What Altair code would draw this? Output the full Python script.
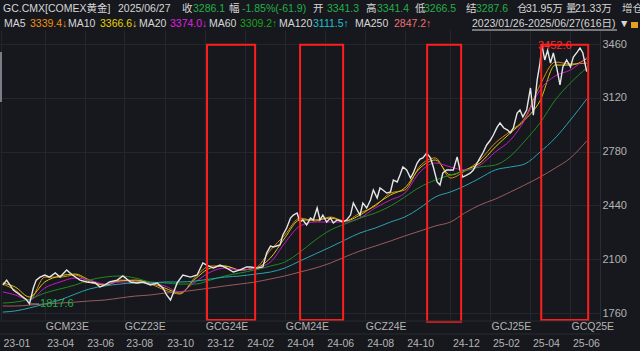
import altair as alt
import pandas as pd

# ---------------- data ----------------
# trading-day index (0 = 2023/01/26, 615 = 2025/06/27) and close price
price_series = [
    (2,1937),(6,1968),(13,1905),(20,1874),(27,1842),(30,1817.6),(34,1918),(37,1968),(41,1987),
    (46,2000),(51,1987),(57,2013),(62,1987),(69,2032),(75,2000),(83,1968),(90,1956),(99,1950),
    (104,1924),(109,1937),(114,1956),(122,1968),(128,1994),(136,1956),(143,1950),(149,1956),
    (157,1937),(164,1950),(170,1918),(174,1874),(178,1842),(181,1886),(185,1950),(191,2000),
    (199,1987),(206,2000),(212,2076),(216,2063),(223,2044),(230,2063),(237,2044),(244,2019),
    (251,2032),(258,2051),(262,2051),(269,2044),(275,2051),(279,2139),(283,2183),(286,2177),
    (293,2190),(296,2253),(300,2297),(304,2360),(307,2379),(311,2392),(314,2335),(317,2348),
    (321,2316),(325,2360),(328,2348),(332,2424),(335,2348),(338,2379),(342,2335),(346,2360),
    (349,2329),(353,2348),(359,2335),(363,2348),(367,2379),(370,2455),(374,2411),(377,2379),
    (380,2455),(384,2424),(388,2474),(391,2537),(395,2487),(398,2550),(401,2537),(405,2518),
    (409,2525),(412,2600),(416,2588),(419,2632),(422,2683),(426,2664),(430,2613),(433,2645),
    (437,2708),(440,2733),(443,2740),(447,2771),(451,2740),(454,2683),(458,2588),(461,2569),
    (464,2645),(468,2664),(472,2664),(475,2664),(479,2746),(482,2664),(485,2619),(489,2632),
    (493,2645),(496,2664),(500,2708),(503,2740),(506,2771),(510,2822),(514,2853),(517,2885),
    (521,2935),(524,2961),(528,2929),(532,2916),(535,2898),(538,2929),(542,3024),(545,3043),
    (548,2999),(552,3043),(556,3182),(559,3010),(563,3232),(566,3340),(568,3452.6),(571,3359),
    (574,3420),(577,3340),(580,3403),(584,3296),(587,3201),(590,3315),(594,3359),(598,3315),
    (601,3378),(605,3409),(608,3435),(611,3403),(615,3286.1),
]

ma_day = [2,15,30,46,62,78,93,109,125,141,157,172,188,204,220,235,251,267,283,298,
          314,330,346,361,377,393,409,424,440,456,472,487,503,519,535,550,566,582,598,615]
ma5 = [1943,1905,1842,1987,1987,2000,1956,1937,1968,1962,1943,1905,1880,1987,2057,2057,2032,2044,2158,2253,
       2360,2341,2367,2341,2392,2436,2518,2537,2689,2740,2613,2657,2727,2834,2910,2992,3200,3346,3334,3339.4]
ma10 = [1950,1924,1861,1956,1994,2006,1968,1937,1962,1968,1950,1918,1886,1975,2044,2057,2032,2044,2108,2234,
        2348,2348,2360,2341,2379,2443,2506,2550,2676,2727,2632,2664,2708,2809,2898,2980,3100,3327,3327,3366.6]
ma20 = [1893,1874,1842,1918,1956,1981,1968,1943,1956,1956,1950,1931,1893,1956,2019,2044,2032,2044,2082,2202,
        2310,2335,2335,2335,2360,2424,2474,2518,2651,2708,2683,2664,2695,2777,2853,2980,3169,3258,3296,3374.0]
ma60 = [1823,1829,1848,1886,1912,1937,1968,1987,1994,1981,1956,1950,1943,1943,1968,1994,2013,2032,2057,2082,
        2145,2221,2284,2322,2360,2392,2436,2493,2556,2600,2632,2657,2683,2695,2752,2847,2961,3106,3214,3309.2]
ma120 = [1766,1773,1792,1817,1842,1880,1912,1931,1943,1950,1950,1956,1956,1962,1975,1987,1994,2006,2019,2044,
         2089,2133,2177,2221,2266,2297,2335,2367,2424,2493,2525,2563,2613,2664,2683,2702,2777,2866,2980,3111.5]
ma250 = [1804,1804,1810,1817,1823,1829,1836,1842,1855,1867,1874,1886,1893,1905,1918,1931,1943,1956,1975,1994,
         2019,2044,2076,2114,2152,2183,2215,2247,2278,2310,2335,2392,2443,2480,2525,2569,2619,2676,2740,2847.2]

date_tick_day = [0,46,88,129,172,214,256,298,340,382,424,472,514,556,598]
date_tick_label = ["23-01","23-04","23-06","23-08","23-10","23-12","24-02","24-04",
                   "24-06","24-08","24-10","24-12","25-02","25-04","25-06"]
contract_day = [46,129,214,298,382,514,598]
contract_label = ["GCM23E","GCZ23E","GCG24E","GCM24E","GCZ24E","GCJ25E","GCQ25E"]

y_ticks = [1760,2100,2440,2780,3120,3460]

box_start = [216.4,314.1,447.5,567.3]
box_end = [266.9,359.3,483.2,616.6]
box_low = [1716,1716,1704,1716]
box_high = [3456,3456,3456,3456]

high_point = (568, 3452.6)
low_point = (30, 1817.6)
low_label_end = 40

header_row1 = [("GC.CMX[COMEX黄金]","w"),("2025/06/27","w"),("收","w"),("3286.1","g"),("幅","w"),
               ("-1.85%(-61.9)","g"),("开","w"),("3341.3","g"),("高","w"),("3341.4","g"),("低","w"),
               ("3266.5","g"),("结","w"),("3287.6","g"),("仓","w"),("31.95万","w"),("量","w"),
               ("21.33万","w"),("增仓","w")]
header_row2 = [("MA5","w"),("3339.4↓","MA5"),("MA10","w"),("3366.6↓","MA10"),("MA20","w"),
               ("3374.0↓","MA20"),("MA60","w"),("3309.2↑","MA60"),("MA120","w"),("3111.5↑","MA120"),
               ("MA250","w"),("2847.2↑","MA250"),("2023/01/26-2025/06/27(616日)","w"),("▼","w")]

# ---------------- styling / layout ----------------
FONT = "Liberation Sans, Noto Sans CJK SC"
BG = "#16181d"
GRID = "#23272d"
LABEL = "#b4b4b4"
WHITE = "#d6d6d6"
GREEN = "#22b04a"
ma_line_colors = {"MA5":"#d88a10","MA10":"#d8c810","MA20":"#c418c4","MA60":"#1f8a1f",
                  "MA120":"#2aa3ad","MA250":"#9c5a5a"}
ma_text_colors = {"MA5":"#f09010","MA10":"#e6d200","MA20":"#e020e0","MA60":"#1fa01f",
                  "MA120":"#20c0d0","MA250":"#f07070"}
row1_x = [3,118,182,193,229,242,313,327,366,377,415,424,466,476,517,526,566,575,622]
row2_x = [4,30,68,100,139,170,209,240,279,313,355,394,472,619]
HEAD_SIZE = 10.5

W, H = 600, 290
TOP = 30

label_map = "{" + ",".join(f"'{d}':'{l}'" for d, l in zip(date_tick_day, date_tick_label)) + "}"
x_scale = alt.Scale(domain=[-1, 629], nice=False, zero=False)
y_scale = alt.Scale(domain=[1715.8, 3548.5], nice=False, zero=False)
x_axis = alt.Axis(values=date_tick_day, labelExpr=label_map + "[datum.value]", grid=True,
                  gridColor=GRID, gridWidth=1, ticks=False, domain=False, labelAlign="left",
                  labelBaseline="middle", labelPadding=23, labelOffset=2, labelColor=LABEL,
                  labelFontSize=10.5, labelFont=FONT, labelFlush=False, labelOverlap=False, title=None)
y_axis = alt.Axis(orient="right", values=y_ticks, format="d", grid=True, gridColor=GRID, gridWidth=1,
                  ticks=False, domain=True, domainColor="#2a2e34", labelAlign="left",
                  labelBaseline="middle", labelPadding=2, labelColor=LABEL, labelFontSize=11,
                  labelFont=FONT, labelFlush=False, title=None)


def X(field):
    return alt.X(field, type="quantitative", scale=x_scale, axis=x_axis)


def Y(field):
    return alt.Y(field, type="quantitative", scale=y_scale, axis=y_axis)


price_df = pd.DataFrame(price_series, columns=["day", "value"])
ma_frames = []
for name, vals in [("MA5", ma5), ("MA10", ma10), ("MA20", ma20), ("MA60", ma60),
                   ("MA120", ma120), ("MA250", ma250)]:
    assert len(vals) == len(ma_day)
    ma_frames.append(pd.DataFrame({"day": ma_day, "value": vals, "ma": name}))
ma_df = pd.concat(ma_frames, ignore_index=True)
box_df = pd.DataFrame({"start": box_start, "end": box_end, "low": box_low, "high": box_high})
contract_df = pd.DataFrame({"day": contract_day, "label": contract_label})

layers = []

# MA lines
layers.append(
    alt.Chart(ma_df).mark_line(strokeWidth=1, interpolate="monotone").encode(
        x=X("day"), y=Y("value"),
        color=alt.Color("ma:N", scale=alt.Scale(domain=list(ma_line_colors.keys()),
                                                range=list(ma_line_colors.values())), legend=None),
        detail="ma:N",
        order=alt.Order("day:Q"),
    )
)
# price line
layers.append(
    alt.Chart(price_df).mark_line(strokeWidth=1.4, color="#e6e6e6").encode(x=X("day"), y=Y("value"))
)
# red highlight boxes
layers.append(
    alt.Chart(box_df).mark_rect(fill=None, fillOpacity=0, stroke="#ff1e1e", strokeWidth=2, clip=False).encode(
        x=X("start"), x2="end", y=Y("low"), y2="high")
)
# high label
layers.append(
    alt.Chart(pd.DataFrame({"day": [high_point[0]], "value": [high_point[1]],
                            "t": [f"{high_point[1]:.1f}"]})).mark_text(
        align="left", baseline="middle", dx=-4, dy=1, font=FONT, fontSize=11, color="#ff2a2a").encode(
        x=X("day"), y=Y("value"), text="t:N")
)
# low marker: pointer + label
layers.append(
    alt.Chart(pd.DataFrame({"day": [low_point[0]], "day2": [low_label_end], "value": [low_point[1]]})).mark_rule(
        color="#8a8a8a", strokeWidth=1).encode(x=X("day"), x2="day2", y=Y("value"))
)
layers.append(
    alt.Chart(pd.DataFrame({"day": [low_label_end], "value": [low_point[1]],
                            "t": [f"{low_point[1]:.1f}"]})).mark_text(
        align="left", baseline="middle", dx=1, font=FONT, fontSize=11, color=GREEN).encode(
        x=X("day"), y=Y("value"), text="t:N")
)
# contract row labels
layers.append(
    alt.Chart(contract_df).mark_text(align="left", baseline="middle", dx=1, font=FONT, fontSize=10.5,
                                     color=LABEL).encode(
        x=X("day"), y=alt.value(327 - TOP), text="label:N")
)
# separator lines of the bottom rows
for yy in (321, 334):
    layers.append(
        alt.Chart(pd.DataFrame({"a": [0]})).mark_rule(color="#262a30", strokeWidth=1).encode(
            x=alt.value(0), x2=alt.value(W), y=alt.value(yy - TOP))
    )
# left scroll indicator
layers.append(
    alt.Chart(pd.DataFrame({"a": [0]})).mark_rect(color="#7c7c88").encode(
        x=alt.value(0), x2=alt.value(2), y=alt.value(52 - TOP), y2=alt.value(102 - TOP))
)


def header_text(s, x, y, color):
    return alt.Chart(pd.DataFrame({"t": [s]})).mark_text(
        align="left", baseline="middle", font=FONT, fontSize=HEAD_SIZE, color=color).encode(
        x=alt.value(x), y=alt.value(y), text="t:N")


color_of = {"w": WHITE, "g": GREEN}
color_of.update(ma_text_colors)
for (s, c), x in zip(header_row1, row1_x):
    layers.append(header_text(s, x, 9 - TOP, color_of[c]))
for (s, c), x in zip(header_row2, row2_x):
    layers.append(header_text(s, x, 24 - TOP, color_of[c]))
# underline of the date range
layers.append(
    alt.Chart(pd.DataFrame({"a": [0]})).mark_rule(color=WHITE, strokeWidth=1).encode(
        x=alt.value(472), x2=alt.value(617), y=alt.value(30 - TOP))
)
# lock icon
layers.append(
    alt.Chart(pd.DataFrame({"a": [0]})).mark_rect(color="#e8a020").encode(
        x=alt.value(631), x2=alt.value(638), y=alt.value(22 - TOP), y2=alt.value(28 - TOP))
)

chart = alt.layer(*layers).properties(
    width=W, height=H,
    autosize=alt.AutoSizeParams(type="none"),
    padding={"left": 0, "top": TOP, "right": 40, "bottom": 31},
    background=BG,
).configure_view(stroke=None).configure_text(font=FONT)

chart.save("out.html", embed_options={"renderer": "svg", "actions": False})
